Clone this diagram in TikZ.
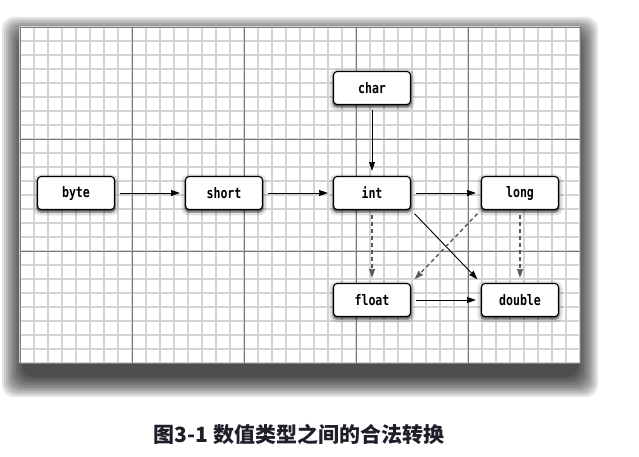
\documentclass[tikz,border=0pt]{standalone}
\usepackage{fontspec}
\newfontfamily\codefont{DejaVu Sans Mono}[FakeStretch=0.8]
\newfontfamily\capfont{Noto Sans CJK SC}
\usetikzlibrary{arrows.meta,shadows}
\definecolor{minorgrid}{HTML}{D4D4D4}
\definecolor{majorgrid}{HTML}{7A7A7A}
\definecolor{capcolor}{HTML}{1E1E28}

\begin{document}
\begin{tikzpicture}
  [x=1pt,y=1pt,>={Stealth[length=9pt,width=6pt,inset=0.5pt]},
   box/.style={draw,fill=white,line width=1.1pt,rounded corners=3.5pt,
     minimum width=77pt,minimum height=33pt,inner sep=0pt,
     font=\codefont\bfseries\fontsize{14.5}{16}\selectfont,
     general shadow={fill=black,draw=black,opacity=0.12,line width=8pt,shadow yshift=-2pt},
     general shadow={fill=black,draw=black,opacity=0.3,line width=3pt,shadow yshift=-2pt}},
   conv/.style={->,line width=0.9pt,shorten <=5pt,shorten >=5pt},
   lossy/.style={conv,dashed,dash pattern=on 4pt off 3pt,draw=black!65,line width=1.4pt},]

\useasboundingbox (0,0) rectangle (639,457);

% shadow of the sheet
\foreach \r in {0,2,...,20}
  \fill[black,opacity=0.1,rounded corners=12pt] (22-\r,80-\r) rectangle (578+\r,420+\r);

% the squared sheet
\fill[white] (20,94) rectangle (580,430);
\begin{scope}[shift={(20,94)}]
  \draw[step=14pt,minorgrid,line width=1.3pt] (0,0) grid (560,336);
  \draw[step=112pt,majorgrid,line width=0.6pt] (0,0) grid (560,336);
\end{scope}

\node[box] (char) at (372,369) {char};
\node[box] (byte) at (76,264) {byte};
\node[box] (short) at (224,264) {short};
\node[box] (int) at (372,264) {int};
\node[box] (long) at (520,264) {long};
\node[box] (float) at (372,157) {float};
\node[box] (double) at (520,157) {double};

\draw[conv] (byte) -- (short);
\draw[conv] (short) -- (int);
\draw[conv] (char) -- (int);
\draw[conv] (int) -- (long);
\draw[conv] (float) -- (double);
\draw[conv] (int.south east) -- (double.north west);
\draw[lossy] (int) -- (float);
\draw[lossy] (long) -- (double);
\draw[lossy] (long.south west) -- (float.north east);

\node[font=\capfont\bfseries\fontsize{21}{24}\selectfont,text=capcolor] (caption) at (299,23) {图3-1 数值类型之间的合法转换};

\end{tikzpicture}
\end{document}
